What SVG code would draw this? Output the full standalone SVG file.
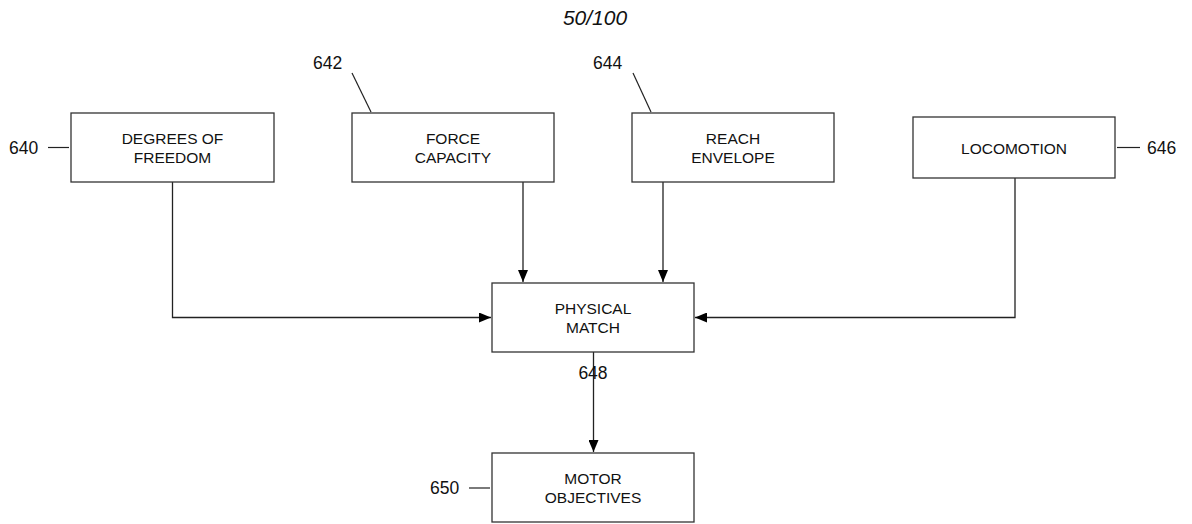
<svg xmlns="http://www.w3.org/2000/svg" width="1192" height="524" viewBox="0 0 1192 524">
<style>
.box{fill:#fff;stroke:#333;stroke-width:1.3}
.t{font-family:"Liberation Sans",Arial,sans-serif;font-size:15.5px;fill:#111;text-anchor:middle}
.n{font-family:"Liberation Sans",Arial,sans-serif;font-size:17.5px;fill:#111}
.c{fill:none;stroke:#222;stroke-width:1.3}
.l{stroke:#222;stroke-width:1.2}
</style>
<defs>
<marker id="ah" markerWidth="12" markerHeight="10" refX="12" refY="5" orient="auto" markerUnits="userSpaceOnUse">
<path d="M0,0 L12,5 L0,10 Z" fill="#000"/>
</marker>
</defs>
<text x="595" y="25" font-family="Liberation Sans, Arial, sans-serif" font-size="21" font-style="italic" fill="#111" text-anchor="middle">50/100</text>
<g id="connectors">
<path class="c" d="M172.5,182 V317.5 H491" marker-end="url(#ah)"/>
<path class="c" d="M523,182 V282" marker-end="url(#ah)"/>
<path class="c" d="M663,182 V282" marker-end="url(#ah)"/>
<path class="c" d="M1015,178 V317.5 H695" marker-end="url(#ah)"/>
<path class="c" d="M593.5,352 V452" marker-end="url(#ah)"/>
</g>
<g id="n640">
<rect class="box" x="71" y="113" width="203" height="69"/>
<text class="t" x="172.5" y="144">DEGREES OF</text>
<text class="t" x="172.5" y="163">FREEDOM</text>
<line class="l" x1="48" y1="147.5" x2="69" y2="147.5"/>
<text class="n" x="9" y="154">640</text>
</g>
<g id="n642">
<rect class="box" x="352" y="113" width="202" height="69"/>
<text class="t" x="453" y="144">FORCE</text>
<text class="t" x="453" y="163">CAPACITY</text>
<line class="l" x1="352" y1="73" x2="371" y2="112"/>
<text class="n" x="313" y="69">642</text>
</g>
<g id="n644">
<rect class="box" x="632" y="113" width="202" height="69"/>
<text class="t" x="733" y="144">REACH</text>
<text class="t" x="733" y="163">ENVELOPE</text>
<line class="l" x1="633" y1="73" x2="651" y2="112"/>
<text class="n" x="593" y="69">644</text>
</g>
<g id="n646">
<rect class="box" x="913" y="117" width="202" height="61"/>
<text class="t" x="1014" y="154">LOCOMOTION</text>
<line class="l" x1="1117" y1="147.5" x2="1140" y2="147.5"/>
<text class="n" x="1147" y="154">646</text>
</g>
<g id="n648">
<rect class="box" x="492" y="283" width="202" height="69"/>
<text class="t" x="593" y="314">PHYSICAL</text>
<text class="t" x="593" y="333">MATCH</text>
<text class="n" x="593" y="379" text-anchor="middle">648</text>
</g>
<g id="n650">
<rect class="box" x="492" y="453" width="202" height="69"/>
<text class="t" x="593" y="484">MOTOR</text>
<text class="t" x="593" y="503">OBJECTIVES</text>
<line class="l" x1="469" y1="488" x2="490" y2="488"/>
<text class="n" x="430" y="494">650</text>
</g>
</svg>
